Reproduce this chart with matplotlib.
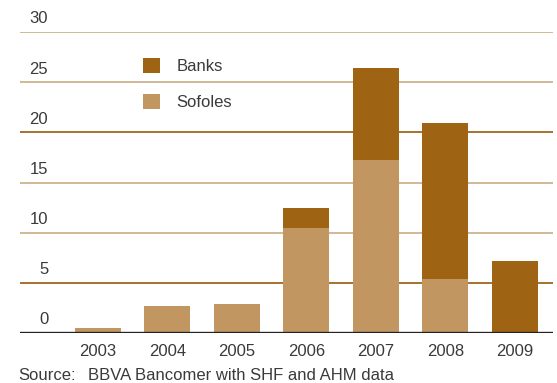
import numpy as np
import matplotlib
matplotlib.use("Agg")
import matplotlib.pyplot as plt
from matplotlib.transforms import blended_transform_factory

years = ["2003", "2004", "2005", "2006", "2007", "2008", "2009"]
sofoles = [0.5, 2.7, 2.9, 10.5, 17.2, 5.4, 0.0]
banks = [0.0, 0.0, 0.0, 2.0, 9.2, 15.5, 7.2]
yticks = [0, 5, 10, 15, 20, 25, 30]

c_banks = "#9e6414"
c_sofoles = "#c19661"
c_light = "#cdb38c"
c_dark = "#a0661c"
c_text = "#3a3a3a"

plt.rcParams["font.family"] = ["Liberation Sans", "DejaVu Sans"]

fig = plt.figure(figsize=(5.57, 3.83), dpi=100)
ax = fig.add_axes([20 / 557, 50 / 383, 533 / 557, 301 / 383])

x = np.arange(len(years))
ax.bar(x, sofoles, width=0.66, color=c_sofoles, label="Sofoles", zorder=3)
ax.bar(x, banks, width=0.66, bottom=sofoles, color=c_banks, label="Banks", zorder=3)

# gridlines alternate light / dark
grid_cols = {5: c_dark, 10: c_light, 15: c_light, 20: c_dark, 25: c_light, 30: c_light}
for v, c in grid_cols.items():
    ax.axhline(v, color=c, lw=1.3, zorder=1)
ax.axhline(0, color="#222222", lw=2.4, zorder=4)

trans = blended_transform_factory(ax.transAxes, ax.transData)
for v in yticks:
    ax.text(0.053, v + 0.55, str(v), transform=trans, ha="right", va="bottom",
            fontsize=12, color=c_text, clip_on=False)

ax.set_xlim(-1.12, 6.55)
ax.set_ylim(0, 30)
ax.set_xticks(x)
ax.set_xticklabels(years, fontsize=12, color=c_text)
ax.tick_params(axis="x", length=0, pad=8)
ax.set_yticks([])
for s in ax.spines.values():
    s.set_visible(False)

h, l = ax.get_legend_handles_labels()
ax.legend(h[::-1], l[::-1], loc="upper left", bbox_to_anchor=(128 / 557, 1 - 43 / 383),
          bbox_transform=fig.transFigure, frameon=False, fontsize=12,
          handlelength=1.0, handleheight=1.0, handletextpad=1.0, labelspacing=1.2,
          labelcolor=c_text)

fig.text(18 / 557, 1 - 380 / 383, "Source:", fontsize=12, color=c_text)
fig.text(88 / 557, 1 - 380 / 383, "BBVA Bancomer with SHF and AHM data", fontsize=12, color=c_text)

fig.savefig("out.png", dpi=100)
